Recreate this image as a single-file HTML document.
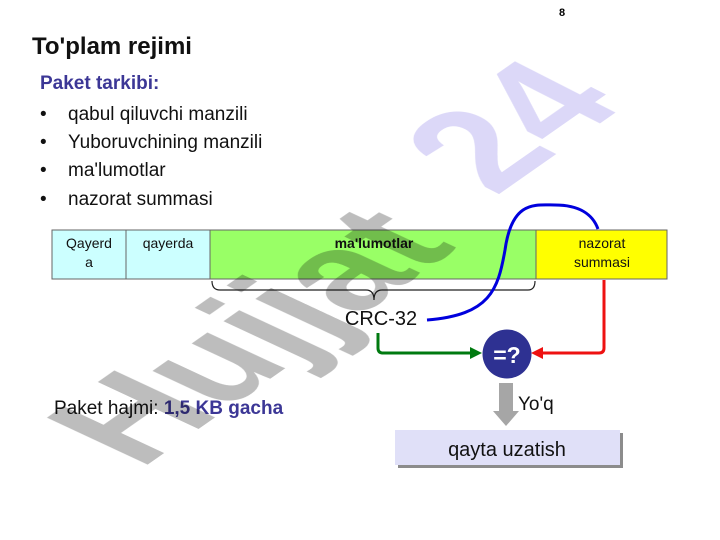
<!DOCTYPE html>
<html><head><meta charset="utf-8"><style>
html,body{margin:0;padding:0;background:#fff;}
body{width:720px;height:540px;overflow:hidden;position:relative;font-family:"Liberation Sans",sans-serif;}
</style></head><body>
<svg width="720" height="540" viewBox="0 0 720 540" xmlns="http://www.w3.org/2000/svg" style="position:absolute;left:0;top:0" font-family="Liberation Sans, sans-serif">
<text x="562" y="16" font-size="11" font-weight="bold" text-anchor="middle">8</text>
<text x="32" y="54" font-size="24" font-weight="bold" fill="#111">To'plam rejimi</text>
<text x="40" y="89" font-size="19" font-weight="bold" fill="#3c3796">Paket tarkibi:</text>
<g font-size="19" fill="#111">
<text x="40" y="120">•</text><text x="68" y="120">qabul qiluvchi manzili</text>
<text x="40" y="148">•</text><text x="68" y="148">Yuboruvchining manzili</text>
<text x="40" y="176">•</text><text x="68" y="176">ma'lumotlar</text>
<text x="40" y="205">•</text><text x="68" y="205">nazorat summasi</text>
</g>
<rect x="52" y="230" width="74" height="49" fill="#ccffff" stroke="#666" stroke-width="1"/>
<rect x="126" y="230" width="84" height="49" fill="#ccffff" stroke="#666" stroke-width="1"/>
<rect x="210" y="230" width="326" height="49" fill="#99ff66" stroke="#666" stroke-width="1"/>
<rect x="536" y="230" width="131" height="49" fill="#ffff00" stroke="#666" stroke-width="1"/>
<g font-size="14" text-anchor="middle" fill="#111">
<text x="89" y="248">Qayerd</text><text x="89" y="267">a</text>
<text x="168" y="248">qayerda</text>
<text x="374" y="248" font-weight="bold">ma'lumotlar</text>
<text x="602" y="248">nazorat</text><text x="602" y="267">summasi</text>
</g>
<path d="M212,281 Q212,290 220,290 L366,290 Q374,290 374,300 Q374,290 382,290 L528,290 Q535,290 535,281" fill="none" stroke="#222" stroke-width="1.2"/>
<text x="381" y="325" font-size="20" text-anchor="middle" fill="#111">CRC-32</text>
<path d="M427,320 C490,315 498,290 505,250 C512,200 535,205 555,205 C580,205 593,215 598,229" fill="none" stroke="#0000dd" stroke-width="3"/>
<path d="M378,333 L378,348 Q378,353 383,353 L472,353" fill="none" stroke="#007a10" stroke-width="3"/>
<polygon points="482,353 470,347 470,359" fill="#007a10"/>
<path d="M604,280 L604,348 Q604,353 599,353 L540,353" fill="none" stroke="#ee1111" stroke-width="3"/>
<polygon points="531,353 543,347 543,359" fill="#ee1111"/>
<circle cx="507" cy="354" r="24.5" fill="#2e3192"/>
<text x="507" y="363" font-size="23" font-weight="bold" fill="#fff" text-anchor="middle">=?</text>
<rect x="499" y="383" width="14" height="30" fill="#a6a6a6"/>
<polygon points="493,411 519,411 506,426" fill="#a6a6a6"/>
<text x="518" y="410" font-size="19" fill="#111">Yo'q</text>
<rect x="398" y="433" width="225" height="35" fill="#8c8c8c"/>
<rect x="395" y="430" width="225" height="35" fill="#e0e0f8"/>
<text x="507" y="456" font-size="20" text-anchor="middle" fill="#111">qayta uzatish</text>
<text x="54" y="414" font-size="19" fill="#111">Paket hajmi: <tspan font-weight="bold" fill="#3c3796">1,5 KB gacha</tspan></text>
<g style="mix-blend-mode:multiply" font-weight="900">
<text transform="translate(140,470) rotate(-35) skewX(30)" font-size="140" fill="#bdbdbd">Hujjat</text>
<text transform="translate(495,197) rotate(-35) skewX(28)" font-size="145" fill="#dcd8f8">24</text>
</g>
</svg>
</body></html>
